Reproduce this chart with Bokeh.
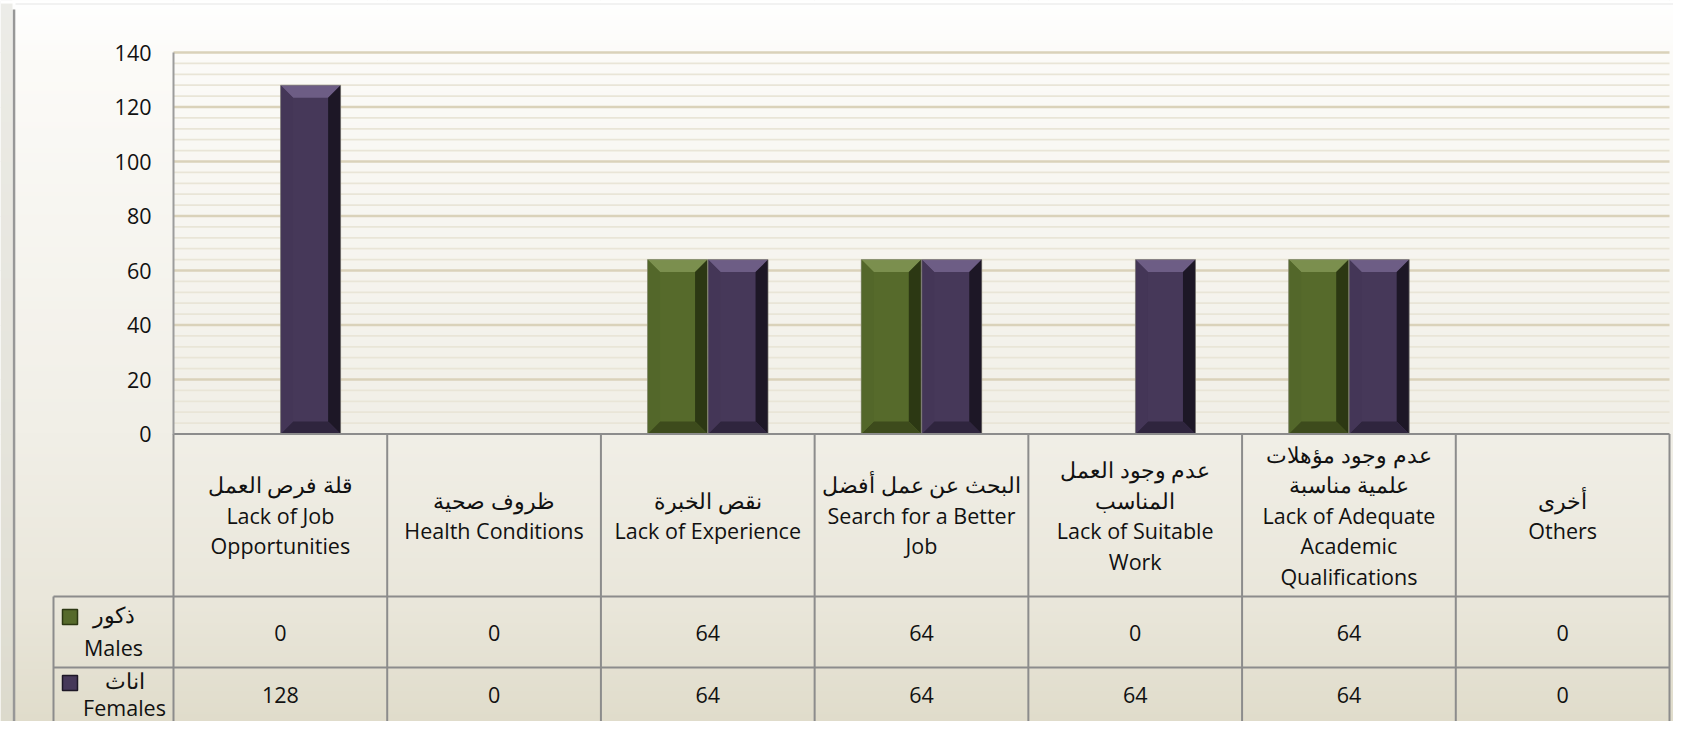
import numpy as np
from bokeh.plotting import figure
from bokeh.models import Range1d, LinearAxis, FixedTicker, ColumnDataSource
from bokeh.core.properties import value
from bokeh.embed import file_html
from bokeh.resources import INLINE

# ---------------- data ----------------
categories_ar = ["قلة فرص العمل", "ظروف صحية", "نقص الخبرة", "البحث عن عمل أفضل",
                 "عدم وجود العمل\nالمناسب", "عدم وجود مؤهلات\nعلمية مناسبة", "أخرى"]
categories_en = ["Lack of Job\nOpportunities", "Health Conditions", "Lack of Experience",
                 "Search for a Better\nJob", "Lack of Suitable\nWork",
                 "Lack of Adequate\nAcademic\nQualifications", "Others"]
males = [0, 0, 64, 64, 0, 64, 0]
females = [128, 0, 64, 64, 64, 64, 0]
series_ar = ["ذكور", "اناث"]
series_en = ["Males", "Females"]
y_ticks = [0, 20, 40, 60, 80, 100, 120, 140]
y_max = 140
minor_step = 4

# ---------------- layout constants (figure pixels) ----------------
W, H = 1673, 721
CAT_PX = (1669 - 173) / 7.0          # pixels per category
X0 = 173                              # fig x of category origin
Y_PX = (433.5 - 52) / 140.0           # pixels per value unit
Y0 = 433.5                            # fig y of value 0
FONT = value("Open Sans")
FS = "21.5px"
TXT = "#111111"

def fy(y_down):          # top-down pixel -> px range (bottom-up)
    return H - y_down

def fx(x_px):            # pixel -> category data x
    return (x_px - X0) / CAT_PX

p = figure(width=W, height=H,
           x_range=Range1d(-X0 / CAT_PX, (W - X0) / CAT_PX),
           y_range=Range1d(-(H - Y0) / Y_PX, Y0 / Y_PX),
           output_backend="svg", toolbar_location=None,
           x_axis_location=None, y_axis_location=None,
           min_border=0, outline_line_color=None,
           border_fill_color="white", background_fill_color="white")
p.extra_x_ranges = {"px": Range1d(0, W)}
p.extra_y_ranges = {"px": Range1d(0, H)}

# ---------------- background gradient ----------------
stops_y = [0, 60, 433, 600, 737]
stops_c = [(255, 255, 255), (252, 251, 248), (241, 239, 231), (234, 231, 219), (223, 219, 201)]
rows = np.arange(H)
ydown = H - rows - 0.5
img = np.empty((H, 1), dtype=np.uint32)
view = img.view(dtype=np.uint8).reshape((H, 1, 4))
for k in range(3):
    view[:, 0, k] = np.interp(ydown, stops_y, [c[k] for c in stops_c]).astype(np.uint8)
view[:, 0, 3] = 255
p.image_rgba(image=[img], x=0, y=0, dw=W, dh=H, x_range_name="px", y_range_name="px")

# chart frame edges (outer shadow at left / top)
p.quad(left=[0], right=[12], bottom=[0], top=[H], fill_color="#d8d6ce", fill_alpha=0.45,
       line_color=None, x_range_name="px", y_range_name="px")
p.quad(left=[0], right=[W], bottom=[fy(3)], top=[H], fill_color="white",
       line_color=None, x_range_name="px", y_range_name="px")
p.segment(x0=[15], x1=[W], y0=[fy(3.5)], y1=[fy(3.5)], line_color="#e6e6e6", line_width=1.2,
          x_range_name="px", y_range_name="px")
p.quad(left=[12.3], right=[14.8], bottom=[0], top=[fy(9)], fill_color="#979797",
       line_color=None, x_range_name="px", y_range_name="px")

# ---------------- gridlines ----------------
minor_vals = [v for v in range(minor_step, y_max + 1, minor_step) if v not in y_ticks]
major_vals = [v for v in y_ticks if v > 0]
n = len(categories_en)
p.segment(x0=[0] * len(minor_vals), x1=[n] * len(minor_vals), y0=minor_vals, y1=minor_vals,
          line_color="#e9e5d7", line_width=1.8)
p.segment(x0=[0] * len(major_vals), x1=[n] * len(major_vals), y0=major_vals, y1=major_vals,
          line_color="#dad2ba", line_width=2.4)

# ---------------- bars ----------------
BW = 0.281
OFF = 0.1415
centers = np.arange(n) + 0.5
bdx = 12.5 / CAT_PX
bdy = 12.5 / Y_PX

palettes = {
    "m": dict(main="#566a2b", top="#7b8f4e", right="#2c3813", bottom="#3d4b1c", left="#53672a"),
    "f": dict(main="#463859", top="#6d5d85", right="#1d1726", bottom="#2f253e", left="#443657"),
}

def draw_bars(vals, xc, pal):
    l = xc - BW / 2
    r = xc + BW / 2
    p.quad(left=l, right=r, bottom=0, top=vals, fill_color=pal["main"], line_color=None)
    xs, ys, cs = [], [], []
    for li, ri, v in zip(l, r, vals):
        if v <= 0:
            continue
        xs += [[li, ri, ri - bdx, li + bdx], [ri, ri, ri - bdx, ri - bdx],
               [li, ri, ri - bdx, li + bdx], [li, li, li + bdx, li + bdx]]
        ys += [[v, v, v - bdy, v - bdy], [v, 0, bdy, v - bdy],
               [0, 0, bdy, bdy], [0, v, v - bdy, bdy]]
        cs += [pal["top"], pal["right"], pal["bottom"], pal["left"]]
    src = ColumnDataSource(dict(xs=xs, ys=ys, c=cs))
    p.patches("xs", "ys", source=src, fill_color="c", line_color=None)
    p.quad(left=[a for a, v in zip(l, vals) if v > 0], right=[b for b, v in zip(r, vals) if v > 0],
           bottom=0, top=[v for v in vals if v > 0], fill_color=None,
           line_color="#8f8f80", line_width=1, line_alpha=0.6)

draw_bars(np.array(males, dtype=float), centers - OFF, palettes["m"])
draw_bars(np.array(females, dtype=float), centers + OFF, palettes["f"])

# ---------------- table ----------------
GRID = "#8c8c8c"
x_leg = fx(53)
y_top, y_hdr, y_m = 433.5, 596, 667
p.segment(x0=list(range(n + 1)), x1=list(range(n + 1)),
          y0=[fy(y_top)] * (n + 1), y1=[0] * (n + 1),
          line_color=GRID, line_width=2, y_range_name="px")
p.segment(x0=[x_leg], x1=[x_leg], y0=[fy(y_hdr)], y1=[0],
          line_color=GRID, line_width=2, y_range_name="px")
p.segment(x0=[0, x_leg, x_leg], x1=[n, n, n],
          y0=[fy(y_top), fy(y_hdr), fy(y_m)],
          y1=[fy(y_top), fy(y_hdr), fy(y_m)],
          line_color=GRID, line_width=2.2, y_range_name="px")

# header labels
LS = 30.5
hx, hy, ht = [], [], []
hdr_c = (y_top + y_hdr) / 2
for i, (ar, en) in enumerate(zip(categories_ar, categories_en)):
    lines = ar.split("\n") + en.split("\n")
    k = len(lines)
    for j, t in enumerate(lines):
        hx.append(i + 0.5)
        hy.append(fy(hdr_c + (j - (k - 1) / 2) * LS))
        ht.append(t)
p.text(x=hx, y=hy, text=ht, text_align="center", text_baseline="middle",
       text_font=FONT, text_font_size=FS, text_color=TXT, y_range_name="px")

# values rows
row_c = [632, 694]
for vals, rc in zip([males, females], row_c):
    p.text(x=list(centers), y=[fy(rc)] * n, text=[str(v) for v in vals],
           text_align="center", text_baseline="middle",
           text_font=FONT, text_font_size=FS, text_color=TXT, y_range_name="px")

# legend cells
leg_x = [113, 124]
leg_ar_y = [614, 680]
leg_en_y = [647, 707]
sw_top = [609, 675]
for s in range(2):
    pal = palettes["m" if s == 0 else "f"]
    p.quad(left=[62], right=[77], top=[fy(sw_top[s])], bottom=[fy(sw_top[s] + 15)],
           fill_color=pal["main"], line_color=pal["right"], line_width=1.5,
           x_range_name="px", y_range_name="px")
    p.text(x=[leg_x[s], leg_x[s]], y=[fy(leg_ar_y[s]), fy(leg_en_y[s])],
           text=[series_ar[s], series_en[s]], text_align="center", text_baseline="middle",
           text_font=FONT, text_font_size=FS, text_color=TXT,
           x_range_name="px", y_range_name="px")

# ---------------- y axis ----------------
yaxis = LinearAxis(fixed_location=0, ticker=FixedTicker(ticks=y_ticks), bounds=(0, y_max),
                   major_tick_line_color=None, minor_tick_line_color=None,
                   major_tick_in=0, major_tick_out=0, minor_tick_in=0, minor_tick_out=0,
                   major_label_standoff=22, axis_line_color="#9c9c9c", axis_line_width=2,
                   major_label_text_font="Open Sans", major_label_text_font_size=FS,
                   major_label_text_color=TXT)
p.add_layout(yaxis, "left")

open("out.html", "w").write(file_html(p, INLINE))
